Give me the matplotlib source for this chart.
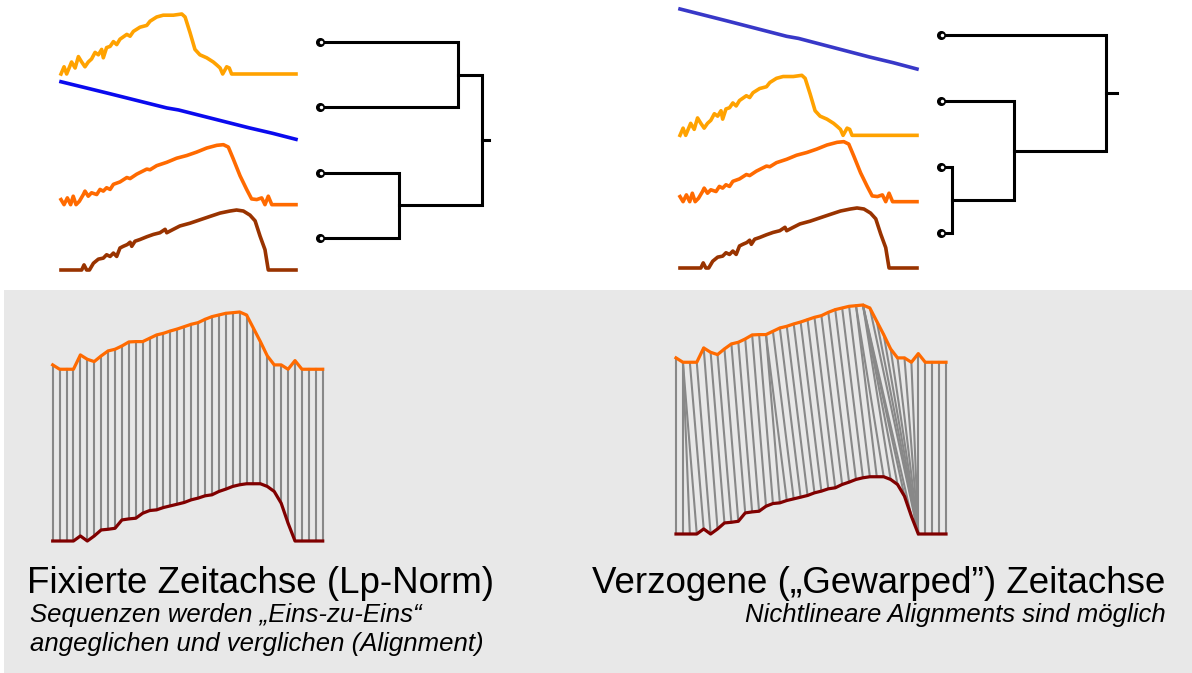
import matplotlib
matplotlib.use("Agg")
import matplotlib.pyplot as plt
from matplotlib.patches import Rectangle

plt.rcParams["font.family"] = ["Liberation Sans", "DejaVu Sans"]

W, H = 1192, 673

# --- top sequences: time (0..1) and normalised value (0..1) ---
yellow_t = [0, 0.013, 0.024, 0.045, 0.060, 0.074, 0.088, 0.102, 0.116, 0.130, 0.145, 0.159,
            0.173, 0.180, 0.194, 0.209, 0.223, 0.237, 0.251, 0.280, 0.294, 0.308, 0.336, 0.365,
            0.379, 0.407, 0.435, 0.478, 0.514, 0.528, 0.549, 0.570, 0.591, 0.620, 0.648, 0.663,
            0.677, 0.688, 0.705, 0.716, 0.726, 1.0]
yellow_v = [0, 0.12, 0, 0.20, 0.10, 0.29, 0.20, 0.12, 0.20, 0.25, 0.36, 0.32,
            0.41, 0.27, 0.44, 0.46, 0.54, 0.49, 0.58, 0.66, 0.63, 0.71, 0.78, 0.81,
            0.88, 0.95, 0.98, 0.98, 1.0, 0.95, 0.69, 0.41, 0.32, 0.27, 0.20, 0.15,
            0.10, 0, 0.12, 0.10, 0, 0]

blue_t = [0, 0.2, 0.45, 0.5, 0.8, 0.9, 1.0]
blue_v = [1.0, 0.80, 0.545, 0.51, 0.20, 0.105, 0.0]

orange_t = [0, 0.013, 0.027, 0.041, 0.052, 0.064, 0.078, 0.095, 0.102, 0.116, 0.130, 0.152,
            0.166, 0.180, 0.194, 0.209, 0.223, 0.251, 0.280, 0.294, 0.322, 0.365, 0.379, 0.407,
            0.450, 0.492, 0.535, 0.577, 0.620, 0.663, 0.691, 0.712, 0.733, 0.762, 0.790, 0.811,
            0.833, 0.854, 0.868, 0.882, 0.897, 1.0]
orange_v = [0.085, 0, 0.113, 0, 0.141, 0, 0.056, 0.169, 0.226, 0.141, 0.198, 0.169,
            0.254, 0.226, 0.282, 0.254, 0.339, 0.379, 0.452, 0.435, 0.508, 0.593, 0.582, 0.650,
            0.706, 0.774, 0.819, 0.876, 0.944, 0.989, 1.0, 0.960, 0.763, 0.480, 0.254, 0.096,
            0.085, 0.113, 0, 0.141, 0, 0]

brown_t = [0, 0.088, 0.098, 0.109, 0.121, 0.138, 0.159, 0.180, 0.194, 0.209, 0.223, 0.237,
           0.251, 0.265, 0.282, 0.294, 0.301, 0.315, 0.336, 0.365, 0.393, 0.421, 0.443, 0.450,
           0.478, 0.506, 0.549, 0.591, 0.634, 0.677, 0.719, 0.747, 0.776, 0.804, 0.826, 0.847,
           0.868, 0.882, 1.0]
brown_v = [0, 0, 0.085, 0, 0, 0.113, 0.181, 0.198, 0.254, 0.226, 0.282, 0.226,
           0.367, 0.395, 0.424, 0.463, 0.395, 0.480, 0.508, 0.554, 0.593, 0.621, 0.678, 0.621,
           0.678, 0.734, 0.780, 0.836, 0.893, 0.949, 0.983, 1.0, 0.983, 0.915, 0.819, 0.565,
           0.339, 0, 0]

# --- bottom sequences (40 samples each) ---
seq_x = [0.076, 0, 0, 0, 0.25, 0.174, 0.134, 0.233, 0.32, 0.349, 0.407, 0.477, 0.483, 0.483,
         0.541, 0.599, 0.628, 0.669, 0.703, 0.744, 0.785, 0.814, 0.872, 0.919, 0.948, 0.977,
         0.988, 1.0, 0.948, 0.715, 0.483, 0.233, 0.076, 0.076, 0, 0.151, 0, 0, 0, 0]
seq_y = [0, 0, 0, 0, 0.088, 0, 0.088, 0.193, 0.205, 0.222, 0.368, 0.386, 0.398, 0.485,
         0.532, 0.544, 0.585, 0.614, 0.643, 0.673, 0.719, 0.749, 0.789, 0.807, 0.865, 0.906,
         0.953, 0.982, 1, 1, 1, 0.953, 0.865, 0.661, 0.31, 0, 0, 0, 0, 0]

# warping path (index in seq_x, index in seq_y)
path_i = [0, 1, 1, 1, 2, 3, 4, 5, 6, 7, 8, 9, 10, 11, 12, 13, 13, 14, 15, 16, 17, 18, 19, 20,
          21, 22, 23, 24, 25, 26, 26, 27, 27, 27, 27, 28, 29, 30, 31, 32, 33, 34, 35, 36, 37, 38, 39]
path_j = [0, 1, 2, 3, 4, 5, 6, 7, 8, 9, 10, 11, 12, 13, 14, 15, 16, 17, 18, 19, 20, 21, 22, 23,
          24, 25, 26, 27, 28, 29, 30, 31, 32, 33, 34, 35, 35, 35, 35, 35, 35, 35, 35, 36, 37, 38, 39]

# --- dendrograms: (child a, child b, distance) ; leaves 0..3 top to bottom ---
link_left = [(0, 1, 138), (2, 3, 79), (4, 5, 162)]
link_right = [(2, 3, 11), (1, 4, 73), (0, 5, 165)]

c_yellow = "#ffa200"
c_orange = "#ff6a00"
c_brown = "#993300"
c_darkred = "#800000"

fig = plt.figure(figsize=(W / 100, H / 100), dpi=100)
fig.add_artist(Rectangle((4 / W, 0), 1, (H - 290) / H, transform=fig.transFigure,
                         facecolor="#e8e8e8", edgecolor="none", zorder=0))


def px_axes(x0, y0, x1, y1, xlim, ylim):
    ax = fig.add_axes([x0 / W, 1 - y1 / H, (x1 - x0) / W, (y1 - y0) / H])
    ax.set_xlim(*xlim)
    ax.set_ylim(*ylim)
    ax.axis("off")
    return ax


def draw_curves(ax, rows, step, colors):
    for r, (t, v) in enumerate(rows):
        ax.plot(t, [val - r * step for val in v], color=colors[r], lw=2.6,
                clip_on=False, solid_joinstyle="round")


def draw_dendro(ax, links, stub):
    pos = {k: (0, k) for k in range(4)}
    n = 4
    for a, b, d in links:
        xa, ya = pos[a]
        xb, yb = pos[b]
        ax.plot([xa, d, d, xb], [ya, ya, yb, yb], color="black", lw=2.2,
                clip_on=False, solid_joinstyle="miter")
        pos[n] = (d, (ya + yb) / 2)
        n += 1
    xr, yr = pos[n - 1]
    ax.plot([xr, xr + stub], [yr, yr], color="black", lw=2.2, clip_on=False)
    ax.plot([0] * 4, range(4), "o", color="black", ms=5.5, clip_on=False)
    ax.plot([0.8] * 4, range(4), "o", color="white", ms=1.5, clip_on=False)


# top left
ax = px_axes(61, 14, 296, 270, (0, 1), (-3 * 1.089, 1))
draw_curves(ax, [(yellow_t, yellow_v), (blue_t, [v * 0.96 for v in blue_v]),
                 (orange_t, orange_v), (brown_t, brown_v)], 1.089,
            [c_yellow, "#0a0aee", c_orange, c_brown])
ax = px_axes(320, 42, 490, 238, (0, 170), (3, 0))
draw_dendro(ax, link_left, 7)

# top right
ax = px_axes(680, 9, 917, 268, (0, 1), (-3 * 1.105, 1))
draw_curves(ax, [(blue_t, blue_v), (yellow_t, yellow_v),
                 (orange_t, orange_v), (brown_t, brown_v)], 1.105,
            ["#3838c8", c_yellow, c_orange, c_brown])
ax = px_axes(941, 35, 1117, 233, (0, 176), (3, 0))
draw_dendro(ax, link_right, 11)


def draw_alignment(ax, pi, pj):
    for i, j in zip(pi, pj):
        ax.plot([i, j], [seq_x[i] + 3.0, seq_y[j]], color="#888888", lw=1.5, clip_on=False)
    n = range(len(seq_x))
    ax.plot(n, [v + 3.0 for v in seq_x], color=c_orange, lw=2.3, clip_on=False)
    ax.plot(n, seq_y, color=c_darkred, lw=2.3, clip_on=False)


# bottom left: one-to-one
ax = px_axes(52.7, 312, 322.7, 541, (0, 39), (0, 4.0))
draw_alignment(ax, list(range(40)), list(range(40)))

# bottom right: warped
ax = px_axes(676, 305, 946, 534, (0, 39), (0, 4.0))
draw_alignment(ax, path_i, path_j)

fam = ["Liberation Sans", "DejaVu Sans"]
fig.text(27 / W, 1 - 593 / H, "Fixierte Zeitachse (Lp-Norm)", fontsize=26.5, va="baseline",
         family=fam)
fig.text(30 / W, 1 - 622 / H, "Sequenzen werden \u201eEins-zu-Eins\u201c", fontsize=18.5,
         style="italic", va="baseline", family=fam)
fig.text(30 / W, 1 - 651 / H, "angeglichen und verglichen (Alignment)", fontsize=18.5,
         style="italic", va="baseline", family=fam)
fig.text(1165 / W, 1 - 593 / H, "Verzogene (\u201eGewarped\u201d) Zeitachse", fontsize=26.5,
         va="baseline", ha="right", family=fam)
fig.text(1166 / W, 1 - 622 / H, "Nichtlineare Alignments sind m\u00f6glich", fontsize=18.5,
         style="italic", va="baseline", ha="right", family=fam)

fig.savefig("out.png", dpi=100)
